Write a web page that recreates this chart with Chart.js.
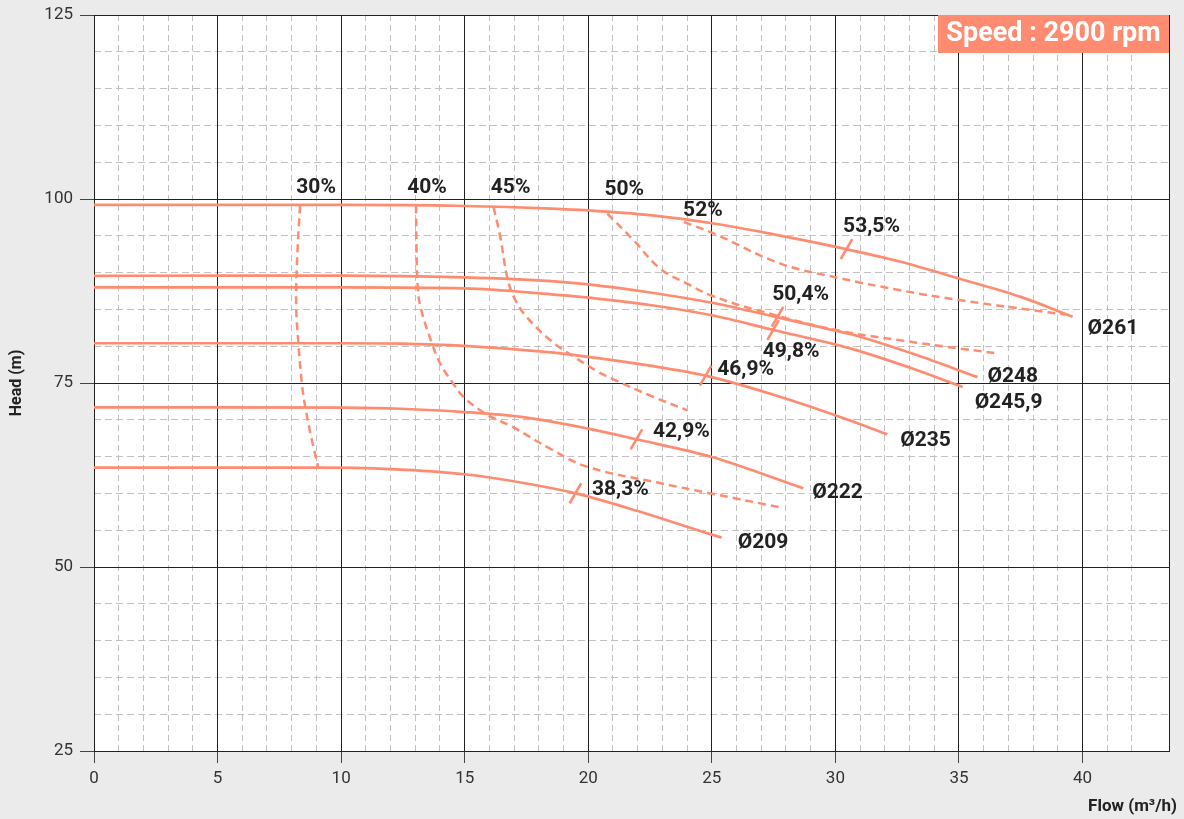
<!DOCTYPE html>
<html>
<head>
<meta charset="utf-8">
<script src="https://cdn.jsdelivr.net/npm/chart.js@4.4.1/dist/chart.umd.min.js"></script>
<style>
html,body{margin:0;padding:0;background:#ebebeb;}
#wrap{position:relative;width:1184px;height:819px;background:#ebebeb;}
#plotbg{position:absolute;background:#ffffff;z-index:0;}
canvas{display:block;position:absolute;left:0;top:0;z-index:1;}
</style>
</head>
<body>
<div id="wrap"><div id="plotbg"></div><canvas id="c" width="1184" height="819"></canvas></div>
<script>
// ---------- DATA ----------
const speedText = 'Speed : 2900 rpm';
const flowTitle = 'Flow (m³/h)';
const headTitle = 'Head (m)';

// Impeller curves (flow m3/h, head m)
const diameterLabels = ['Ø261', 'Ø248', 'Ø245,9', 'Ø235', 'Ø222', 'Ø209'];
const flow261 = [0, 5, 10, 15, 18.5, 20, 22.5, 25, 27.5, 30.3, 32.6, 35.1, 37.5, 39.6];
const head261 = [99.2, 99.2, 99.2, 99.05, 98.7, 98.45, 97.8, 96.7, 95.2, 93.3, 91.5, 89.1, 86.7, 84.0];
const flow248 = [0, 5, 10, 15, 18.5, 20, 22.5, 25, 27.5, 30, 30.6, 33.2, 35.75];
const head248 = [89.55, 89.6, 89.6, 89.35, 88.85, 88.4, 87.3, 85.9, 84.05, 82.1, 81.65, 78.9, 75.8];
const flow2459 = [0, 5, 10, 15, 18.5, 19.7, 22.5, 25, 27.5, 30.6, 33, 35.15];
const head2459 = [88.0, 88.0, 88.0, 87.85, 87.05, 86.7, 85.6, 84.2, 82.2, 79.7, 77.1, 74.45];
const flow235 = [0, 5, 10, 12.4, 15, 18.5, 20, 22.5, 24.75, 27.5, 30.6, 32.1];
const head235 = [80.4, 80.4, 80.4, 80.35, 80.05, 79.15, 78.55, 77.35, 76.0, 73.4, 69.9, 68.0];
const flow222 = [0, 5, 10, 12.4, 15, 17.5, 20, 21.95, 25, 28.7];
const head222 = [71.7, 71.7, 71.65, 71.5, 71.05, 70.3, 68.8, 67.35, 64.95, 60.7];
const flow209 = [0, 5, 9, 12, 15, 17.5, 19.5, 22, 24.9, 25.4];
const head209 = [63.5, 63.5, 63.5, 63.3, 62.6, 61.35, 60.0, 57.6, 54.5, 54.0];

// Iso-efficiency lines
const isoLabels = ['30%', '40%', '45%', '50%', '52%'];
const iso30Flow = [8.34, 8.23, 8.18, 8.27, 8.41, 8.55, 8.8, 9.07];
const iso30Head = [99.14, 92.6, 85.8, 80.4, 75.0, 71.7, 67.5, 63.6];
const iso40Flow = [13.03, 13.05, 13.1, 13.22, 13.68, 14.01, 14.49, 14.96, 15.9, 16.9, 18.5, 19.97, 22.9, 24.95, 27.78];
const iso40Head = [99.14, 93.5, 88.0, 85.2, 80.35, 77.64, 75.14, 73.1, 70.7, 69.1, 66.0, 63.6, 61.4, 60.0, 58.1];
const iso45Flow = [16.17, 16.44, 16.72, 17.0, 17.5, 18.47, 19.41, 20.36, 21.02, 22.5, 24.0];
const iso45Head = [98.9, 94.84, 89.4, 86.6, 84.0, 80.8, 78.6, 76.6, 75.5, 73.3, 71.3];
const iso50Flow = [20.77, 21.84, 22.92, 24.0, 24.95, 26.84, 30.08, 32.64, 35.07, 36.63];
const iso50Head = [98.02, 94.39, 90.5, 88.5, 86.92, 84.88, 82.16, 80.8, 79.67, 79.0];
const iso52Flow = [23.87, 25.09, 27.78, 30.1, 32.64, 35.07, 39.3];
const iso52Head = [96.87, 95.3, 91.22, 89.3, 87.59, 86.24, 84.3];

// Efficiency points on curves
const effLabels = ['53,5%', '50,4%', '49,8%', '46,9%', '42,9%', '38,3%'];
const effFlow = [30.45, 27.66, 27.48, 24.75, 21.95, 19.48];
const effHead = [93.2, 84.0, 82.2, 76.0, 67.35, 60.0];

// Axis values
const flowMin = 0, flowMax = 43.5, flowMajor = 5, flowMinor = 1;
const headMin = 25, headMax = 125, headMajor = 25, headMinor = 5;

// ---------- STYLE ----------
const CURVE = '#ff8c70';
const TEXT = '#222222';
const FONT = 'Roboto';
const MINOR_GRID = '#c2c2c2';
// pixel offsets for annotation texts
const isoLabelOffsets = [[16, -20], [11, -20], [17, -22], [17, -26], [19, -14]];
const diaLabelOffsets = [[15, 10], [10, -3], [12, 13], [13, 4], [9, 2], [16, 3]];
const effLabelOffsets = [[25, -25], [23, -24], [18, 19], [40, -8], [45, -10], [45, -6]];

const pts = (xs, ys) => xs.map((x, i) => ({x: x, y: ys[i]}));
const curveSets = [[flow261, head261], [flow248, head248], [flow2459, head2459], [flow235, head235], [flow222, head222], [flow209, head209]];
const isoSets = [[iso30Flow, iso30Head], [iso40Flow, iso40Head], [iso45Flow, iso45Head], [iso50Flow, iso50Head], [iso52Flow, iso52Head]];

const datasets = [];
isoSets.forEach((s, i) => datasets.push({
  label: isoLabels[i], data: pts(s[0], s[1]), borderColor: CURVE, borderWidth: 2.5,
  borderDash: [8, 5], pointRadius: 0, tension: 0.4, fill: false
}));
curveSets.forEach((s, i) => datasets.push({
  label: diameterLabels[i], data: pts(s[0], s[1]), borderColor: CURVE, borderWidth: 2.7,
  pointRadius: 0, cubicInterpolationMode: 'monotone', fill: false
}));
datasets.push({
  type: 'scatter', label: 'eff', data: pts(effFlow, effHead), showLine: false,
  pointStyle: 'line', rotation: -60, pointRadius: 11.5, pointBorderWidth: 2.6,
  borderColor: CURVE, pointBorderColor: CURVE, backgroundColor: CURVE
});

// paints plot-area white and page grey behind everything already drawn
const areaBg = {
  id: 'areaBg',
  afterDraw(chart) {
    const a = chart.chartArea, c = chart.ctx;
    c.save();
    c.globalCompositeOperation = 'destination-over';
    c.fillStyle = '#ffffff';
    c.fillRect(a.left, a.top, a.right - a.left, a.bottom - a.top);
    c.fillStyle = '#ebebeb';
    c.fillRect(0, 0, chart.width, chart.height);
    c.restore();
  }
};

const annotPlugin = {
  id: 'annot',
  afterDatasetsDraw(chart) {
    const c = chart.ctx, xs = chart.scales.x, ys = chart.scales.y;
    c.save();
    c.font = 'bold 21px ' + FONT;
    c.fillStyle = TEXT;
    c.textBaseline = 'alphabetic';
    const put = (t, fx, fy, off, align) => {
      c.textAlign = align;
      c.fillText(t, xs.getPixelForValue(fx) + off[0], ys.getPixelForValue(fy) + off[1] + 7.5);
    };
    isoSets.forEach((s, i) => put(isoLabels[i], s[0][0], s[1][0], isoLabelOffsets[i], 'center'));
    curveSets.forEach((s, i) => put(diameterLabels[i], s[0][s[0].length - 1], s[1][s[1].length - 1], diaLabelOffsets[i], 'left'));
    effLabels.forEach((t, i) => put(t, effFlow[i], effHead[i], effLabelOffsets[i], 'center'));
    // speed badge
    const a = chart.chartArea;
    const bw = 231, bh = 38;
    c.fillStyle = '#ff8c70';
    c.fillRect(a.right - bw, a.top, bw, bh);
    c.fillStyle = '#ffffff';
    c.font = 'bold 27px ' + FONT;
    c.textAlign = 'center';
    c.fillText(speedText, a.right - bw / 2, a.top + 26);
    // x axis title
    c.fillStyle = TEXT;
    c.font = 'bold 17px ' + FONT;
    c.textAlign = 'right';
    c.fillText(flowTitle, 1177, 811);
    c.restore();
  }
};

const isMajor = (v, step) => Math.abs(v / step - Math.round(v / step)) < 1e-6;

const chart = new Chart(document.getElementById('c'), {
  type: 'line',
  data: {datasets: datasets},
  options: {
    responsive: false,
    animation: false,
    devicePixelRatio: 1,
    events: [],
    layout: {padding: {top: 15, right: 15, left: 0, bottom: 0}},
    plugins: {legend: {display: false}, tooltip: {enabled: false}},
    scales: {
      xMinor: {
        type: 'linear', axis: 'x', position: 'bottom', min: flowMin, max: flowMax, z: -1,
        ticks: {display: false, stepSize: flowMinor},
        grid: {color: MINOR_GRID, lineWidth: 1, drawTicks: false},
        border: {display: false, dash: [6, 4]},
        afterFit(s) { s.height = 0; }
      },
      yMinor: {
        type: 'linear', axis: 'y', position: 'left', min: headMin, max: headMax, z: -1,
        ticks: {display: false, stepSize: headMinor},
        grid: {color: MINOR_GRID, lineWidth: 1, drawTicks: false},
        border: {display: false, dash: [7, 4]},
        afterFit(s) { s.width = 0; }
      },
      x: {
        type: 'linear', position: 'bottom', min: flowMin, max: flowMax,
        ticks: {
          stepSize: flowMajor, autoSkip: false, maxRotation: 0, padding: 6,
          color: '#333', font: {family: FONT, size: 17},
          callback: v => isMajor(v, flowMajor) ? String(v) : ''
        },
        grid: {
          color: '#222', lineWidth: 1, tickLength: 12,
          tickColor: ctx => (ctx.tick && isMajor(ctx.tick.value, flowMajor)) ? '#444' : 'rgba(0,0,0,0)'
        },
        border: {display: true, color: '#222'},
        afterFit(s) { s.height = 68; }
      },
      y: {
        type: 'linear', position: 'left', min: headMin, max: headMax,
        ticks: {stepSize: headMajor, padding: 7, color: '#333', font: {family: FONT, size: 17, lineHeight: 0.85}},
        grid: {color: '#222', lineWidth: 1, tickLength: 14, tickColor: '#444'},
        border: {display: true, color: '#222'},
        title: {display: true, text: headTitle, color: TEXT, font: {family: FONT, size: 16, weight: 'bold'}, padding: {top: 7, bottom: 0}},
        afterFit(s) { s.width = 94; }
      }
    }
  },
  plugins: [areaBg, annotPlugin]
});

// white plot area behind the canvas as well, sized from the chart's own layout
const area = chart.chartArea;
const bg = document.getElementById('plotbg');
bg.style.left = area.left + 'px';
bg.style.top = area.top + 'px';
bg.style.width = (area.right - area.left) + 'px';
bg.style.height = (area.bottom - area.top) + 'px';
</script>
</body>
</html>
